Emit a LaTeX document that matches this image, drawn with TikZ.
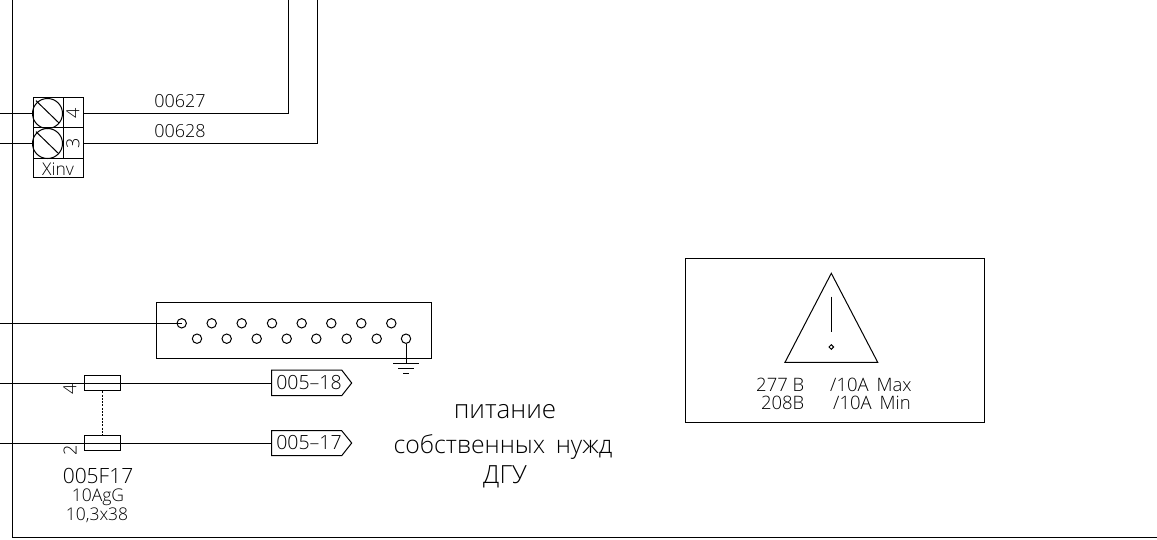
\documentclass[tikz,border=0pt]{standalone}
\usepackage{fontspec}
\setmainfont{Open Sans Light}
\usetikzlibrary{shapes.geometric}
\tikzset{
  ln/.style={line width=1pt,draw=black,line cap=butt},
  boxn/.style={ln,rectangle,inner sep=0pt,anchor=center},
  pin/.style={ln,circle,inner sep=0pt,minimum size=9.4pt,fill=white},
  lab/.style={inner sep=0pt,text=black,font=\fontsize{18}{18}\selectfont},
  taglab/.style={inner sep=0pt,text=black,font=\fontsize{19.5}{19.5}\selectfont},
  smalllab/.style={inner sep=0pt,text=black,font=\fontsize{17.5}{17.5}\selectfont},
  warnlab/.style={inner sep=0pt,text=black,font=\fontsize{18.5}{18.5}\selectfont},
  screw/.style={ln,circle,inner sep=0pt,minimum size=30pt},
  tagb/.style={ln},
}
\begin{document}
\begin{tikzpicture}[x=1pt,y=-1pt]
\useasboundingbox (0,0) rectangle (1157,540);
% frame
\coordinate (ft) at (12.5,0);
\coordinate (fc) at (12.5,537.5);
\coordinate (fr) at (1157,537.5);
\draw[ln] (ft) -- (fc) -- (fr);
% terminal block
\node[boxn,minimum width=50pt,minimum height=80pt] (blk) at (58,138) {};
\node[screw] (s1) at (47.5,113.5) {};
\node[screw] (s2) at (47.5,143.5) {};
\node[boxn,minimum width=20pt,minimum height=30pt] (t4) at (73,113) {};
\node[boxn,minimum width=20pt,minimum height=31pt] (t3) at (73,143.5) {};
\node[lab,rotate=90] at (73,113) {4};
\node[lab,rotate=90] at (73,143.5) {3};
\draw[ln] (33,128) -- (63,128);
\draw[ln] (33,159) -- (83,159);
\draw[ln] (36,100.7) -- (59,123);
\draw[ln] (36,131.7) -- (59,154);
\node[smalllab] (xinv) at (58,169) {Xinv};
\coordinate (w1a) at (0,114);
\coordinate (w2a) at (0,143.5);
\coordinate (w1b) at (288,0);
\coordinate (w2b) at (317.5,0);
\draw[ln] (w1a) -- (s1.west |- w1a);
\draw[ln] (w2a) -- (s2.west |- w2a);
\draw[ln] (83,114) -| (w1b);
\draw[ln] (83,143.5) -| (w2b);
\node[lab] (n627) at (180,101) {00627};
\node[lab] (n628) at (180,131) {00628};
% connector block
\node[boxn,minimum width=274.5pt,minimum height=55.5pt] (conn) at (294.2,330.7) {};
\foreach \x [count=\i] in {181.7,211.7,241.7,272,301.7,331.3,361.3,391.3}
  \node[pin] (p\i) at (\x,323.3) {};
\foreach \x [count=\i] in {197,226.7,256.7,286.7,316.3,346.7,376.7,406}
  \node[pin] (q\i) at (\x,338.7) {};
\coordinate (wc) at (0,323.3);
\draw[ln] (wc) -- (p1.center);
\coordinate (g) at (406,363.3);
\draw[ln] (q8) -- (g);
\draw[ln] (393.3,363.3) -- (419.3,363.3);
\draw[ln] (398,368.3) -- (414,368.3);
\draw[ln] (403,373.3) -- (409,373.3);
% fuses
\node[boxn,minimum width=36pt,minimum height=15.5pt] (f1) at (102.3,383) {};
\node[boxn,minimum width=36pt,minimum height=15pt] (f2) at (102.3,443) {};
\draw[ln,dash pattern=on 2pt off 1.3pt] (f1) -- (f2);
\coordinate (wf1) at (0,383);
\coordinate (wf2) at (0,443);
\node[inner sep=0pt,minimum width=0pt] (tg1) at (271.7,383) {};
\node[inner sep=0pt,minimum width=0pt] (tg2) at (271.7,443) {};
\draw[ln] (wf1) -- (tg1);
\draw[ln] (wf2) -- (tg2);
\draw[tagb] (271.7,370) -- (341.7,370) -- (351.7,383) -- (341.7,395.7) -- (271.7,395.7) -- cycle;
\draw[tagb] (271.7,430.7) -- (341.7,430.7) -- (351.7,443) -- (341.7,455.7) -- (271.7,455.7) -- cycle;
\node[taglab] (l18) at (309,383) {005–18};
\node[taglab] (l17) at (309,443) {005–17};
\node[lab,rotate=90] at (70,389) {4};
\node[lab,rotate=90] at (70,450) {2};
\node[inner sep=0pt,font=\fontsize{21}{21}\selectfont] (fname) at (98,476) {005F17};
\node[smalllab] (famp) at (98,497) {10AgG};
\node[smalllab] (fsz) at (97,515.5) {10,3x38};
% warning
\node[boxn,minimum width=299.3pt,minimum height=164pt] (wb) at (835.3,340.3) {};
\coordinate (ta) at (831.3,273.3);
\coordinate (tl) at (785,362.3);
\coordinate (tr) at (877.7,362.3);
\draw[ln,line join=miter] (ta) -- (tl) -- (tr) -- cycle;
\coordinate (e1) at (831.3,296.7);
\coordinate (e2) at (831.3,331.7);
\draw[ln] (e1) -- (e2);
\node[ln,diamond,inner sep=0pt,minimum size=5pt] (dot) at (831.3,347) {};
\node[warnlab,anchor=east] (v1) at (804.5,385) {277 B};
\node[warnlab,anchor=west] (a1) at (830,385) {/10A\, Max};
\node[warnlab,anchor=east] (v2) at (804.5,403) {208B};
\node[warnlab,anchor=west] (a2) at (833,403) {/10A\, Min};
% caption
\node[inner sep=0pt,font=\fontsize{26}{26}\selectfont] (c1) at (505,412) {питание};
\node[inner sep=0pt,font=\fontsize{24.8}{24.8}\selectfont] (c2) at (503,447) {собственных\, нужд};
\node[inner sep=0pt,font=\fontsize{25}{25}\selectfont] (c3) at (505,477) {ДГУ};
\end{tikzpicture}
\end{document}
